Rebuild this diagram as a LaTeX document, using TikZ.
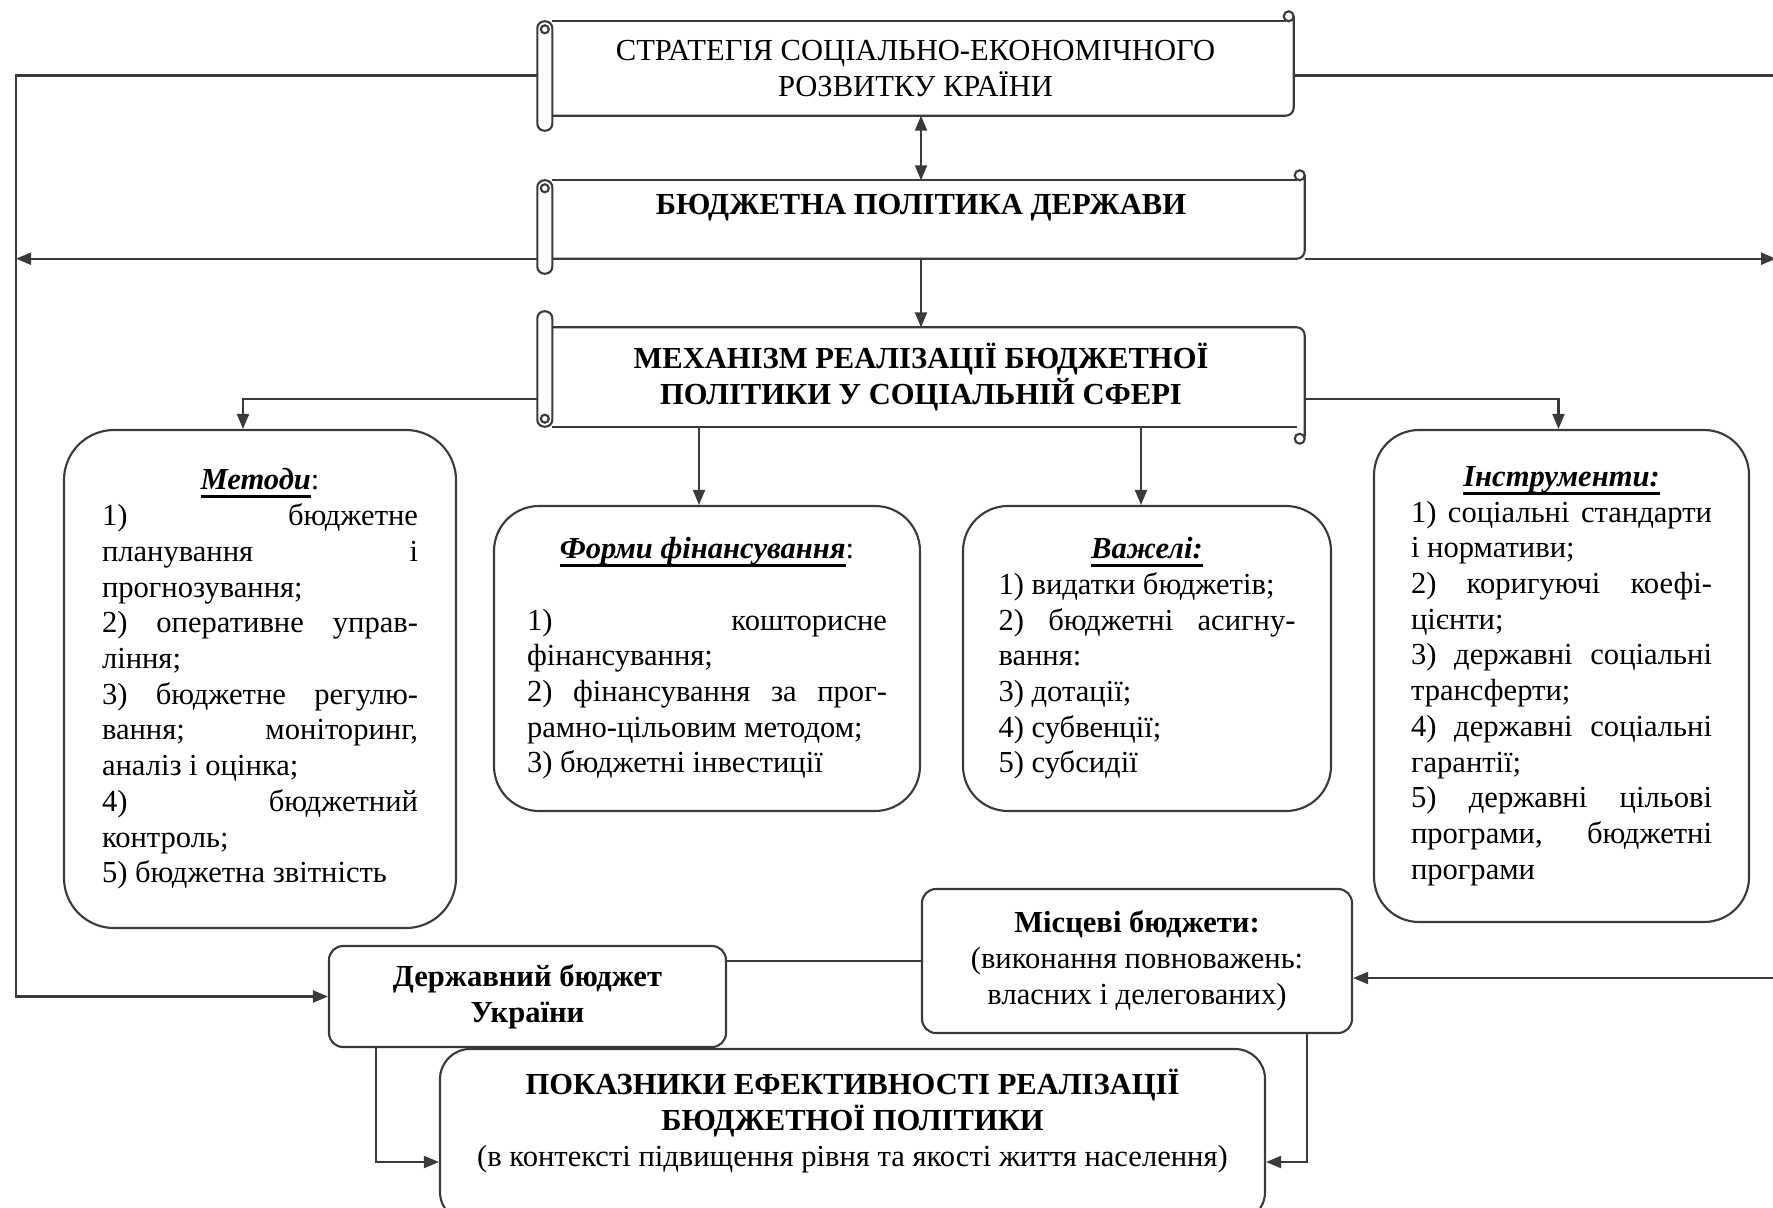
\documentclass[tikz,border=0pt]{standalone}
\usepackage{fontspec}
\setmainfont{Liberation Serif}
\usepackage{xcolor}
\usepackage{tikz}
\usetikzlibrary{arrows.meta,calc,positioning}
\definecolor{linegray}{HTML}{3A3A3A}
\tikzset{every node/.append style={font=\fontsize{8.7pt}{10.16pt}\selectfont}}
\newcommand{\boxhead}[1]{\setbox0\hbox{\textbf{\textit{#1}}}\rlap{\rule[-2.4pt]{\wd0}{0.9pt}}\box0}
% scroll: roll hangs below on the left, curl at the top right
\newcommand{\scrolldown}[1]{%
  \draw[rule,fill=white,rounded corners=0.07cm] (#1.north west) rectangle ($(#1.south west)+(0.15,-0.15)$);
  \draw[rule] ($(#1.north west)+(0.075,-0.08)$) circle (0.04);
  \draw[rule] ($(#1.north west)+(0.15,0)$) -- ($(#1.north east)+(-0.08,0)$);
  \draw[rule,rounded corners=0.08cm] ($(#1.north east)+(0,0.05)$) -- (#1.south east) -- ($(#1.south west)+(0.15,0)$);
  \draw[rule] ($(#1.north east)+(-0.05,0.05)$) circle (0.05);
}
% scroll: roll rises above on the left, curl at the bottom right
\newcommand{\scrollup}[1]{%
  \draw[rule,fill=white,rounded corners=0.07cm] ($(#1.north west)+(0,0.16)$) rectangle ($(#1.south west)+(0.15,0)$);
  \draw[rule] ($(#1.south west)+(0.075,0.08)$) circle (0.04);
  \draw[rule,rounded corners=0.08cm] ($(#1.north west)+(0.15,0)$) -- (#1.north east) -- ($(#1.south east)+(0,-0.1)$);
  \draw[rule] ($(#1.south west)+(0.15,0)$) -- ($(#1.south east)+(-0.08,0)$);
  \draw[rule] ($(#1.south east)+(-0.05,-0.12)$) circle (0.05);
}

\begin{document}
\begin{tikzpicture}[>={Triangle[length=0.15cm,width=0.12cm]},
  rule/.style={draw=linegray,line width=0.6pt},
  link/.style={linegray,line width=0.6pt},
  scroll/.style={inner sep=0pt,align=center},
  roundbox/.style={rule,rounded corners=0.45cm,inner sep=0pt,align=justify,
    execute at begin node=\setlength{\parindent}{0pt}},
  budgetbox/.style={rule,rounded corners=0.14cm,inner sep=0pt,align=center}]
  \useasboundingbox (0,0) rectangle (17.73,-12.07);
  \clip (0,0) rectangle (17.73,-12.07);
  % three scrolls in the middle
  \node[scroll,minimum width=7.55cm,minimum height=0.93cm] (strat) at (9.155,-0.685)
    {СТРАТЕГІЯ СОЦІАЛЬНО-ЕКОНОМІЧНОГО\\РОЗВИТКУ КРАЇНИ};
  \node[inner sep=0pt,minimum width=7.66cm,minimum height=0.77cm,text height=0.21cm,text depth=0.3cm]
    (policy) at (9.21,-2.195) {\textbf{БЮДЖЕТНА ПОЛІТИКА ДЕРЖАВИ}};
  \node[scroll,minimum width=7.66cm,minimum height=0.98cm] (mech) at (9.21,-3.77)
    {\textbf{МЕХАНІЗМ РЕАЛІЗАЦІЇ БЮДЖЕТНОЇ}\\\textbf{ПОЛІТИКИ У СОЦІАЛЬНІЙ СФЕРІ}};
  \scrolldown{strat}
  \scrolldown{policy}
  \scrollup{mech}

  % four boxes of the mechanism
  \node[roundbox,rounded corners=0.5cm,text width=3.16cm,minimum width=3.92cm,minimum height=4.98cm]
    (methods) at (2.60,-6.79) {%
    {\centering\boxhead{Методи}:\par}
    1) бюджетне\linebreak планування і\linebreak прогнозування;\\
    2) оперативне управ-\linebreak ління;\\
    3) бюджетне регулю-\linebreak вання; моніторинг,\linebreak аналіз і оцінка;\\
    4) бюджетний\linebreak контроль;\\
    5) бюджетна звітність};
  \node[roundbox,text width=3.60cm,minimum width=4.26cm,minimum height=3.05cm]
    (forms) at (7.07,-6.585) {%
    {\centering\boxhead{Форми фінансування}:\par}\vspace{10.16pt}
    1) кошторисне\linebreak фінансування;\\
    2) фінансування за прог-\linebreak рамно-цільовим методом;\\
    3) бюджетні інвестиції};
  \node[roundbox,text width=2.97cm,minimum width=3.68cm,minimum height=3.05cm]
    (levers) at (11.47,-6.585) {%
    {\centering\boxhead{Важелі:}\par}
    1) видатки бюджетів;\\
    2) бюджетні асигну-\linebreak вання:\\
    3) дотації;\\
    4) субвенції;\\
    5) субсидії};
  \node[roundbox,text width=3.01cm,minimum width=3.75cm,minimum height=4.92cm]
    (instr) at (15.615,-6.76) {%
    {\centering\boxhead{Інструменти:}\par}
    1) соціальні стандарти\linebreak і нормативи;\\
    2) коригуючі коефі-\linebreak цієнти;\\
    3) державні соціальні\linebreak трансферти;\\
    4) державні соціальні\linebreak гарантії;\\
    5) державні цільові\linebreak програми, бюджетні\linebreak програми};

  % budgets and indicators
  \node[budgetbox,minimum width=3.97cm,minimum height=1.01cm] (state) at (5.275,-9.965)
    {\textbf{Державний бюджет}\\\textbf{України}};
  \node[budgetbox,minimum width=4.30cm,minimum height=1.44cm] (local) at (11.37,-9.61)
    {\textbf{Місцеві бюджети:}\\(виконання повноважень:\\власних і делегованих)};
  \node[budgetbox,rounded corners=0.3cm,minimum width=8.25cm,minimum height=1.73cm] (indic) at (8.525,-11.355) {};
  \node[scroll] (indictext) at ([yshift=0.145cm]indic.center)
    {\textbf{ПОКАЗНИКИ ЕФЕКТИВНОСТІ РЕАЛІЗАЦІЇ}\\\textbf{БЮДЖЕТНОЇ ПОЛІТИКИ}\\(в контексті підвищення рівня та якості життя населення)};

  % connectors
  \coordinate (leftrail) at (0.16,-5);
  \coordinate (rightrail) at (17.80,-5);
  \coordinate (rightedge) at (17.76,0);
  \draw[link,<->] (policy.north |- strat.south) -- (policy.north);
  \draw[link,->] (policy.south) -- (mech.north);
  \draw[link,->] ([yshift=-0.07cm]strat.west) -| (leftrail) |- (state.west);
  \draw[link,->] (policy.south west) -- (policy.south west -| leftrail);
  \draw[link,->] ([yshift=-0.07cm]strat.east) -| (rightrail) |- ([yshift=-0.17cm]local.east);
  \draw[link,->] (policy.south east) -- (policy.south east -| rightedge);
  \draw[link,->] ([yshift=-0.22cm]mech.west) -| ([xshift=-0.17cm]methods.north);
  \draw[link,->] ([yshift=-0.22cm]mech.east) -| ([xshift=-0.03cm]instr.north);
  \draw[link,->] ([xshift=-0.08cm]mech.south -| forms.north) -- ([xshift=-0.08cm]forms.north);
  \draw[link,->] ([xshift=-0.06cm]mech.south -| levers.north) -- ([xshift=-0.06cm]levers.north);
  \draw[link] (state.east |- local.west) -- (local.west);
  \draw[link,->] ([xshift=0.48cm]state.south west) |- ([yshift=-0.265cm]indic.west);
  \draw[link,->] ([xshift=-0.46cm]local.south east) |- ([yshift=-0.265cm]indic.east);
\end{tikzpicture}
\end{document}
